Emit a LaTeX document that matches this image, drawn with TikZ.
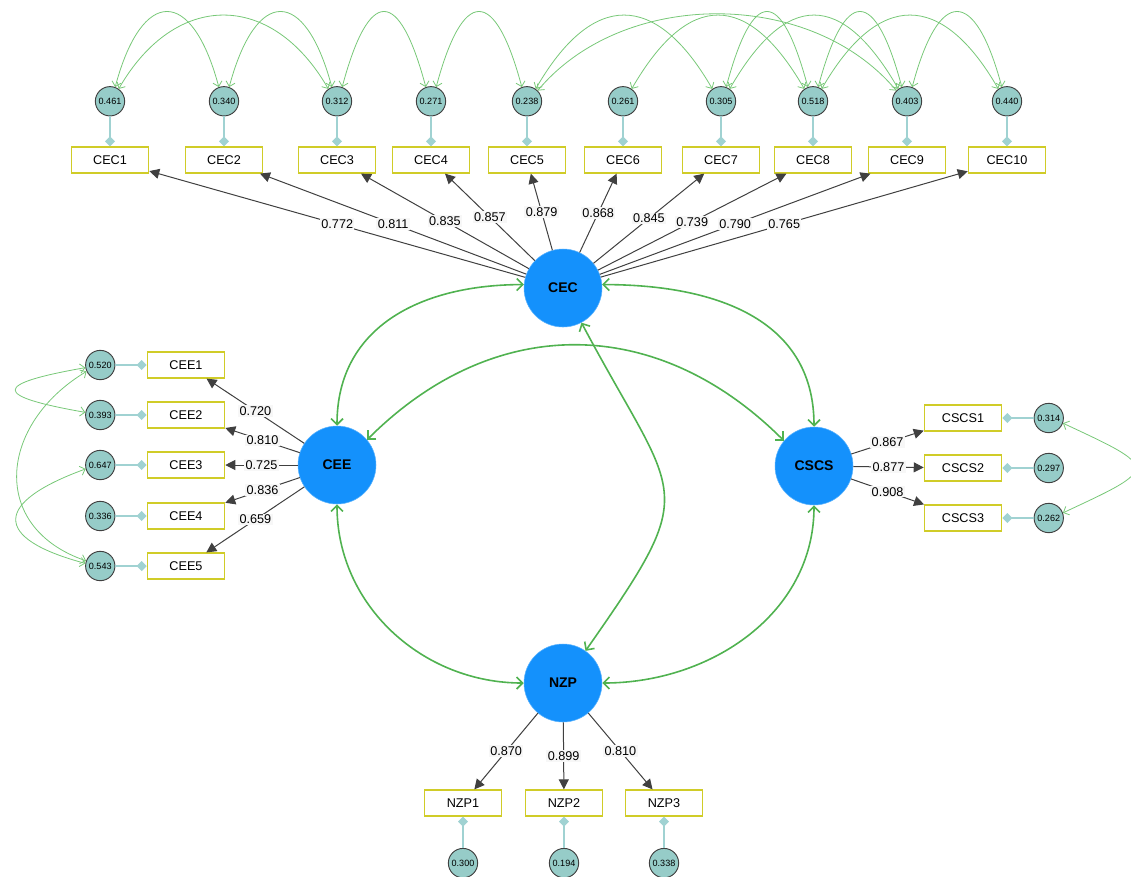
\documentclass[tikz,border=0pt]{standalone}
\usepackage{fontspec}
\setmainfont{Liberation Sans}
\usepackage{xcolor}
\usetikzlibrary{shapes,arrows.meta,positioning}

\definecolor{latentblue}{RGB}{20,145,252}
\definecolor{boxyellow}{RGB}{208,204,40}
\definecolor{errteal}{RGB}{150,204,200}
\definecolor{linkteal}{RGB}{160,210,210}
\definecolor{covgreen}{RGB}{80,178,80}
\definecolor{ecovgreen}{RGB}{120,200,120}

\tikzstyle{latent} = [circle, fill=latentblue, draw=latentblue!70!white,
    minimum size=58.5pt, inner sep=0pt, font=\fontsize{10.5}{12}\selectfont\bfseries]
\tikzstyle{indicator} = [rectangle, draw=boxyellow, fill=white, line width=0.9pt,
    minimum width=58pt, minimum height=19.5pt, inner sep=0pt, font=\fontsize{9.5}{11}\selectfont]
\tikzstyle{errnode} = [circle, draw=black!75, fill=errteal, line width=0.7pt,
    minimum size=22pt, inner sep=0pt, font=\fontsize{6.8}{7}\selectfont]
\tikzstyle{line} = [draw, black!75, line width=0.75pt, -{Triangle[length=7.5pt,width=7.5pt]}]
\tikzstyle{errline} = [draw, linkteal, line width=0.9pt, -{Diamond[length=7.5pt,width=7.5pt]}]
\tikzstyle{loading} = [fill=black!3, text=black, inner sep=1pt, font=\fontsize{9.5}{10}\selectfont]
\tikzstyle{cov} = [draw, covgreen, line width=1.2pt,
    {Straight Barb[length=4.5pt,width=9pt]}-{Straight Barb[length=4.5pt,width=9pt]}]
\tikzstyle{ecov} = [draw, ecovgreen, line width=0.6pt,
    {Straight Barb[length=3.5pt,width=7pt]}-{Straight Barb[length=3.5pt,width=7pt]}]

\begin{document}
\begin{tikzpicture}[x=0.75pt, y=-0.75pt]
    \useasboundingbox (0,0) rectangle (1131,876);
    % Place latent nodes
    \node [latent] (CEC) at (563,288) {CEC};
    \node [latent] (CEE) at (337,465) {CEE};
    \node [latent] (CSCS) at (814,466) {CSCS};
    \node [latent] (NZP) at (563,683) {NZP};
    % Indicators, errors and loadings
    \foreach \i/\x/\err/\lam in {1/110/0.461/0.772, 2/224/0.340/0.811, 3/337/0.312/0.835,
        4/431/0.271/0.857, 5/527/0.238/0.879, 6/623/0.261/0.868, 7/721/0.305/0.845,
        8/813/0.518/0.739, 9/907/0.403/0.790, 10/1007/0.440/0.765} {
        \node [indicator] (CEC\i) at (\x,160) {CEC\i};
        \node [errnode, above=22.5pt of CEC\i] (eCEC\i) {\err};
        \path [errline] (eCEC\i) -- (CEC\i);
        \path [line] (CEC) -- node [loading] {\lam} (CEC\i);
    }
    \foreach \i/\y/\err/\lam in {1/365/0.520/0.720, 2/415/0.393/0.810, 3/465/0.647/0.725,
        4/516/0.336/0.836, 5/566/0.543/0.659} {
        \node [indicator] (CEE\i) at (186,\y) {CEE\i};
        \node [errnode, left=23.5pt of CEE\i] (eCEE\i) {\err};
        \path [errline] (eCEE\i) -- (CEE\i);
        \path [line] (CEE) -- node [loading] {\lam} (CEE\i);
    }
    \foreach \i/\y/\err/\lam in {1/418/0.314/0.867, 2/468/0.297/0.877, 3/518/0.262/0.908} {
        \node [indicator] (CSCS\i) at (963,\y) {CSCS\i};
        \node [errnode, right=23.5pt of CSCS\i] (eCSCS\i) {\err};
        \path [errline] (eCSCS\i) -- (CSCS\i);
        \path [line] (CSCS) -- node [loading] {\lam} (CSCS\i);
    }
    \foreach \i/\x/\err/\lam in {1/463/0.300/0.870, 2/564/0.194/0.899, 3/664/0.338/0.810} {
        \node [indicator] (NZP\i) at (\x,803) {NZP\i};
        \node [errnode, below=23.5pt of NZP\i] (eNZP\i) {\err};
        \path [errline] (eNZP\i) -- (NZP\i);
        \path [line] (NZP) -- node [loading] {\lam} (NZP\i);
    }
    % Latent covariances
    \path [cov] (CEC.175) to[out=180, in=90, looseness=1.1] (CEE.90);
    \path [cov] (CEC.5) to[out=0, in=90, looseness=1.1] (CSCS.90);
    \path [cov] (CEE.40) to[out=45, in=135, looseness=1.1] (CSCS.140);
    \path [cov] (CEC.-62) to[out=-62, in=55, looseness=1.6] (NZP.55);
    \path [cov] (CEE.270) to[out=-90, in=180] (NZP.180);
    \path [cov] (CSCS.270) to[out=-90, in=0] (NZP.0);
    % Error covariances, CEC
    \path [ecov] (eCEC1.70) .. controls +(75:78pt) and +(105:78pt) .. (eCEC2.110);
    \path [ecov] (eCEC1.55) .. controls +(60:85pt) and +(120:85pt) .. (eCEC3.125);
    \path [ecov] (eCEC2.70) .. controls +(75:78pt) and +(105:78pt) .. (eCEC3.110);
    \path [ecov] (eCEC3.70) .. controls +(75:78pt) and +(105:78pt) .. (eCEC4.110);
    \path [ecov] (eCEC4.70) .. controls +(75:78pt) and +(105:78pt) .. (eCEC5.110);
    \path [ecov] (eCEC5.55) .. controls +(60:85pt) and +(120:85pt) .. (eCEC7.125);
    \path [ecov] (eCEC5.45) .. controls +(50:100pt) and +(130:100pt) .. (eCEC9.135);
    \path [ecov] (eCEC6.55) .. controls +(60:85pt) and +(120:85pt) .. (eCEC8.125);
    \path [ecov] (eCEC7.70) .. controls +(75:78pt) and +(105:78pt) .. (eCEC8.110);
    \path [ecov] (eCEC7.55) .. controls +(60:85pt) and +(120:85pt) .. (eCEC9.125);
    \path [ecov] (eCEC8.70) .. controls +(75:78pt) and +(105:78pt) .. (eCEC9.110);
    \path [ecov] (eCEC8.55) .. controls +(60:85pt) and +(120:85pt) .. (eCEC10.125);
    \path [ecov] (eCEC9.70) .. controls +(75:78pt) and +(105:78pt) .. (eCEC10.110);
    % Error covariances, CEE and CSCS
    \path [ecov] (eCEE1.190) .. controls +(190:71pt) and +(170:71pt) .. (eCEE2.170);
    \path [ecov] (eCEE1.205) .. controls +(211:77pt) and +(161:77pt) .. (eCEE5.160);
    \path [ecov] (eCEE3.195) .. controls +(200:73pt) and +(165:73pt) .. (eCEE5.170);
    \path [ecov] (eCSCS1.-20) .. controls +(-25:80pt) and +(25:80pt) .. (eCSCS3.20);
\end{tikzpicture}
\end{document}
